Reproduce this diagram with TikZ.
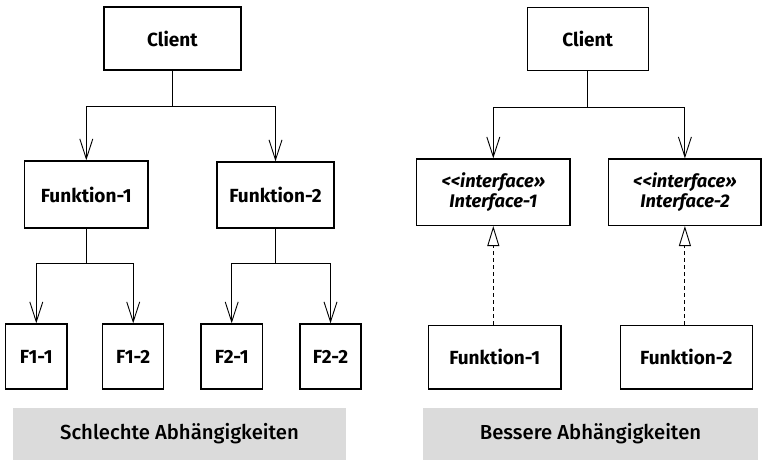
\documentclass[tikz,border=0pt]{standalone}
\usepackage{fontspec}
\setmainfont{Fira Sans}
\newfontfamily\capfont{Fira Sans Medium}
\usetikzlibrary{arrows.meta}
\tikzset{
  box/.style={draw=black, line width=1.4pt, fill=white, inner sep=0pt, font=\bfseries\fontsize{19}{21}\selectfont, align=center},
  ibox/.style={box, font=\bfseries\itshape\fontsize{18.3}{20}\selectfont},
  caption/.style={fill=black!14, inner sep=0pt, font=\capfont\fontsize{20.3}{23}\selectfont},
  conn/.style={line width=0.9pt},
  arr/.style={conn, -{Straight Barb[length=20pt, width=13pt, line width=0.9pt]}},
  real/.style={line width=0.9pt, dash pattern=on 4pt off 3pt, -{Triangle[open, length=20pt, width=12pt, line width=0.9pt]}}
}
\begin{document}
\begin{tikzpicture}[x=1pt, y=-1pt]
\useasboundingbox (0,0) rectangle (762,459);
% left
\node[box, minimum width=137pt, minimum height=63pt] (cL) at (172.5,38.5) {Client};
\node[box, minimum width=123.5pt, minimum height=67pt] (f1) at (86.3,194.5) {Funktion-1};
\node[box, minimum width=117pt, minimum height=66pt] (f2) at (275.5,195) {Funktion-2};
\node[box, minimum width=61.3pt, minimum height=65pt] (f11) at (36.3,356.5) {F1-1};
\node[box, minimum width=61pt, minimum height=65pt] (f12) at (133.2,356.5) {F1-2};
\node[box, minimum width=61.3pt, minimum height=65pt] (f21) at (231.7,356.5) {F2-1};
\node[box, minimum width=61pt, minimum height=65pt] (f22) at (330.5,356.5) {F2-2};
\node[caption, minimum width=333pt, minimum height=52pt] (gL) at (179.5,434) {Schlechte Abhängigkeiten};
\coordinate (jL) at (172.5,106);
\coordinate (j1) at (86.3,263);
\coordinate (j2) at (275.5,263);
\draw[conn] (cL) -- (jL);
\draw[arr] (jL) -| (f1);
\draw[arr] (jL) -| (f2);
\draw[conn] (f1) -- (j1);
\draw[arr] (j1) -| (f11);
\draw[arr] (j1) -| (f12);
\draw[conn] (f2) -- (j2);
\draw[arr] (j2) -| (f21);
\draw[arr] (j2) -| (f22);
% right
\node[box, minimum width=121pt, minimum height=63.4pt] (cR) at (587.7,39) {Client};
\node[ibox, minimum width=153.3pt, minimum height=66.3pt] (i1) at (493.3,192.2) {<{}<interface»\\Interface-1};
\node[ibox, minimum width=152.3pt, minimum height=66.3pt] (i2) at (684.9,192.2) {<{}<interface»\\Interface-2};
\node[box, minimum width=132.7pt, minimum height=63.3pt] (r1) at (494.7,357.3) {Funktion-1};
\node[box, minimum width=132pt, minimum height=63.3pt] (r2) at (686.3,357.3) {Funktion-2};
\node[caption, minimum width=335pt, minimum height=52pt] (gR) at (590.5,434) {Bessere Abhängigkeiten};
\coordinate (jR) at (587.7,107);
\draw[conn] (cR) -- (jR);
\draw[arr] (jR) -| (i1);
\draw[arr] (jR) -| (i2);
\draw[real] (r1.north -| i1.south) -- (i1.south);
\draw[real] (r2.north -| i2.south) -- (i2.south);
\end{tikzpicture}
\end{document}
